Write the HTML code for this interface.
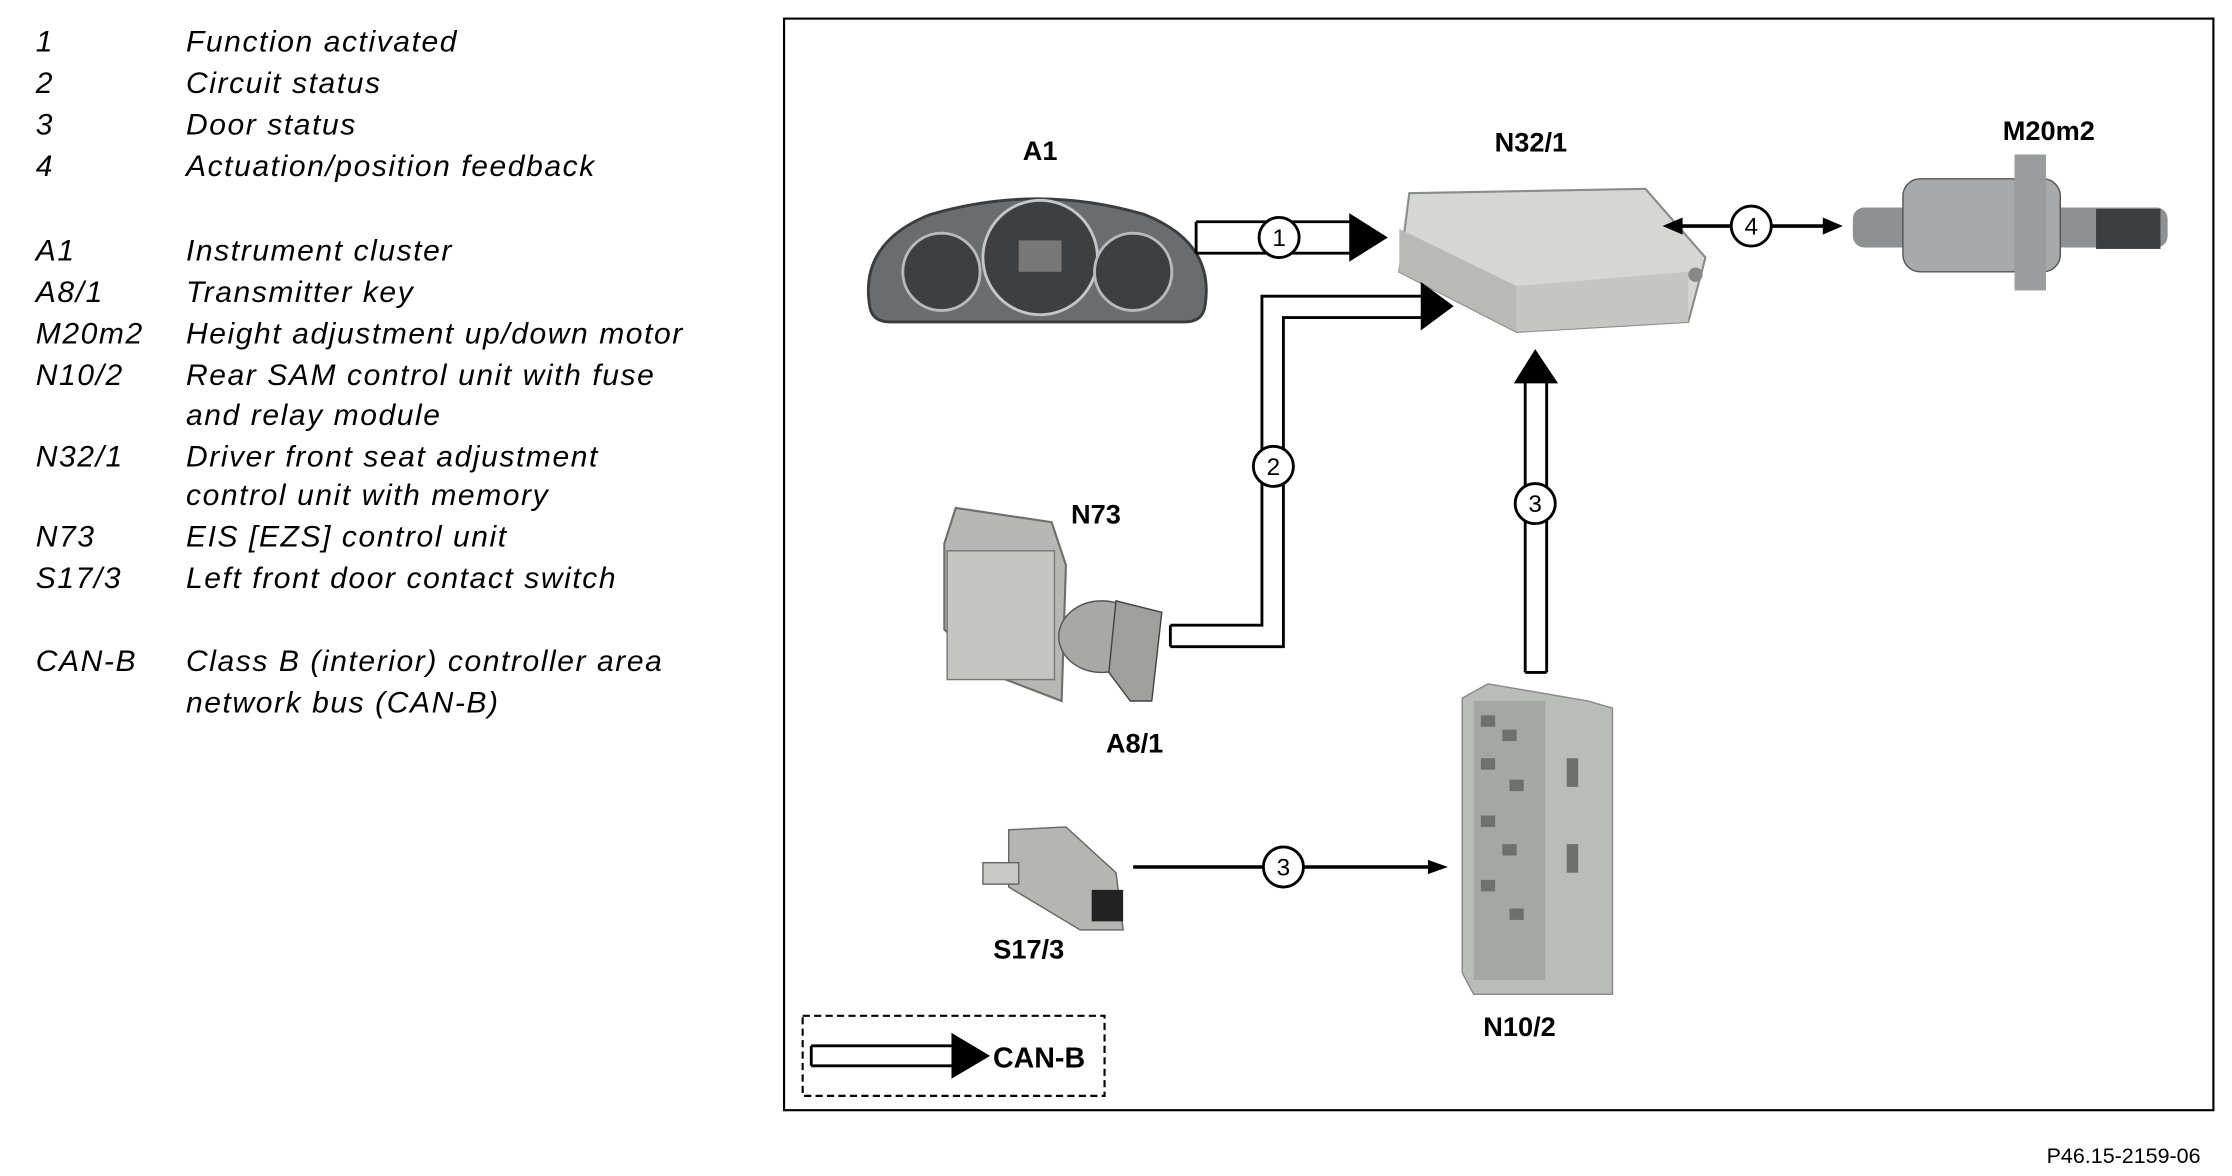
<!DOCTYPE html>
<html><head><meta charset="utf-8"><style>
html,body{margin:0;padding:0;background:#fff;}
svg{display:block;}
.lg{font-family:"Liberation Sans",sans-serif;font-style:italic;font-size:21px;letter-spacing:1.1px;fill:#000;}
.lb{font-family:"Liberation Sans",sans-serif;font-weight:bold;font-size:19px;fill:#000;text-anchor:middle;}
.cn{font-family:"Liberation Sans",sans-serif;font-size:17px;fill:#000;text-anchor:middle;}
</style></head><body>
<svg width="2232" height="1176" viewBox="0 0 1560 822" preserveAspectRatio="none" xmlns="http://www.w3.org/2000/svg">
<rect width="1560" height="822" fill="#fff"/>
<g class="lg">
<text x="25" y="36">1</text><text x="130" y="36">Function activated</text>
<text x="25" y="65">2</text><text x="130" y="65">Circuit status</text>
<text x="25" y="94">3</text><text x="130" y="94">Door status</text>
<text x="25" y="123">4</text><text x="130" y="123">Actuation/position feedback</text>
<text x="25" y="182">A1</text><text x="130" y="182">Instrument cluster</text>
<text x="25" y="211">A8/1</text><text x="130" y="211">Transmitter key</text>
<text x="25" y="240">M20m2</text><text x="130" y="240">Height adjustment up/down motor</text>
<text x="25" y="269">N10/2</text><text x="130" y="269">Rear SAM control unit with fuse</text>
<text x="130" y="297">and relay module</text>
<text x="25" y="326">N32/1</text><text x="130" y="326">Driver front seat adjustment</text>
<text x="130" y="353">control unit with memory</text>
<text x="25" y="382">N73</text><text x="130" y="382">EIS [EZS] control unit</text>
<text x="25" y="411">S17/3</text><text x="130" y="411">Left front door contact switch</text>
<text x="25" y="469">CAN-B</text><text x="130" y="469">Class B (interior) controller area</text>
<text x="130" y="498">network bus (CAN-B)</text>
</g>
<text x="1538" y="813" font-family="Liberation Sans,sans-serif" font-size="15" text-anchor="end">P46.15-2159-06</text>
<rect x="548" y="13" width="999" height="763" fill="none" stroke="#000" stroke-width="1.5"/>

<text class="lb" x="727" y="112">A1</text>
<path d="M608,215 Q600,170 650,150 Q725,128 800,150 Q850,170 842,215 Q840,225 828,225 L622,225 Q610,225 608,215Z" fill="#6a6d70" stroke="#3a3c3e" stroke-width="2"/>
<circle cx="658" cy="190" r="27" fill="#3d3f41" stroke="#b8bbbd" stroke-width="2"/>
<circle cx="727" cy="180" r="40" fill="#3d3f41" stroke="#c4c6c8" stroke-width="2"/>
<rect x="712" y="168" width="30" height="22" fill="#777"/>
<circle cx="792" cy="190" r="27" fill="#3d3f41" stroke="#b8bbbd" stroke-width="2"/>

<path d="M836,155 L945,155 M836,177 L945,177 M836,155 L836,177" stroke="#000" stroke-width="2" fill="none"/>
<polygon points="943,149 970,166 943,183" fill="#000"/>
<circle cx="894" cy="166" r="14" fill="#fff" stroke="#000" stroke-width="2"/>
<text class="cn" x="894" y="172">1</text>

<text class="lb" x="1070" y="106">N32/1</text>
<polygon points="985,135 1150,132 1192,180 1180,225 1060,232 978,190" fill="#d6d7d5" stroke="#8a8c8a" stroke-width="1.5"/>
<polygon points="978,160 1060,200 1060,232 978,190" fill="#b9bab8"/>
<polygon points="1060,200 1180,190 1180,225 1060,232" fill="#c5c6c4"/>
<circle cx="1185" cy="192" r="5" fill="#888"/>

<line x1="1170" y1="158" x2="1280" y2="158" stroke="#000" stroke-width="2.5"/>
<polygon points="1162,158 1176,152 1176,164" fill="#000"/>
<polygon points="1288,158 1274,152 1274,164" fill="#000"/>
<circle cx="1224" cy="158" r="14" fill="#fff" stroke="#000" stroke-width="2"/>
<text class="cn" x="1224" y="164">4</text>

<text class="lb" x="1432" y="98">M20m2</text>
<rect x="1295" y="145" width="220" height="28" rx="8" fill="#8e9092"/>
<rect x="1330" y="125" width="110" height="65" rx="12" fill="#a7a9aa" stroke="#555" stroke-width="1"/>
<rect x="1408" y="108" width="22" height="95" fill="#9a9c9d"/>
<rect x="1465" y="146" width="45" height="28" fill="#3c3d3e"/>

<path d="M818,437 L882,437 L882,207 L995,207 M818,452 L897,452 L897,222 L995,222 M818,437 L818,452" stroke="#000" stroke-width="2" fill="none"/>
<polygon points="993,197 1016,214 993,231" fill="#000"/>
<circle cx="890" cy="326" r="14" fill="#fff" stroke="#000" stroke-width="2"/>
<text class="cn" x="890" y="332">2</text>

<path d="M1066,470 L1066,266 M1081,470 L1081,266 M1066,470 L1081,470" stroke="#000" stroke-width="2" fill="none"/>
<polygon points="1058,268 1073,244 1089,268" fill="#000"/>
<circle cx="1073" cy="352" r="14" fill="#fff" stroke="#000" stroke-width="2"/>
<text class="cn" x="1073" y="358">3</text>

<text class="lb" x="766" y="366">N73</text>
<polygon points="668,355 735,365 745,395 742,490 690,470 660,440 660,380" fill="#b7b8b6" stroke="#6f706e" stroke-width="1.5"/>
<rect x="662" y="385" width="75" height="90" fill="#c5c6c4" stroke="#777" stroke-width="1"/>
<ellipse cx="770" cy="445" rx="30" ry="25" fill="#a8a9a7" stroke="#555"/>
<path d="M780,420 L812,428 L805,490 L790,490 L775,470Z" fill="#9fa09e" stroke="#444"/>
<text class="lb" x="793" y="526">A8/1</text>

<polygon points="1022,488 1040,478 1110,490 1127,495 1127,695 1030,695 1022,680" fill="#babcba" stroke="#888" stroke-width="1"/>
<rect x="1030" y="490" width="50" height="195" fill="#a5a7a5"/>
<g fill="#6e706e">
<rect x="1035" y="500" width="10" height="8"/><rect x="1050" y="510" width="10" height="8"/><rect x="1035" y="530" width="10" height="8"/><rect x="1055" y="545" width="10" height="8"/><rect x="1035" y="570" width="10" height="8"/><rect x="1050" y="590" width="10" height="8"/><rect x="1035" y="615" width="10" height="8"/><rect x="1055" y="635" width="10" height="8"/><rect x="1095" y="530" width="8" height="20"/><rect x="1095" y="590" width="8" height="20"/>
</g>
<text class="lb" x="1062" y="724">N10/2</text>

<polygon points="705,580 745,578 780,610 785,650 755,650 705,620" fill="#b5b6b4" stroke="#666" stroke-width="1"/>
<rect x="687" y="603" width="25" height="15" fill="#c8c9c7" stroke="#666"/>
<rect x="763" y="622" width="22" height="22" fill="#222"/>
<text class="lb" x="719" y="670">S17/3</text>

<line x1="792" y1="606" x2="1000" y2="606" stroke="#000" stroke-width="2.5"/>
<polygon points="1012,606 998,601 998,611" fill="#000"/>
<circle cx="897" cy="606" r="14" fill="#fff" stroke="#000" stroke-width="2"/>
<text class="cn" x="897" y="612">3</text>

<rect x="561" y="710" width="211" height="56" fill="none" stroke="#000" stroke-width="1.5" stroke-dasharray="5,3"/>
<path d="M567,731 L667,731 M567,745 L667,745 M567,731 L567,745" stroke="#000" stroke-width="2" fill="none"/>
<polygon points="665,722 692,738 665,754" fill="#000"/>
<text x="694" y="746" font-family="Liberation Sans,sans-serif" font-weight="bold" font-size="20">CAN-B</text>
</svg>
</body></html>
